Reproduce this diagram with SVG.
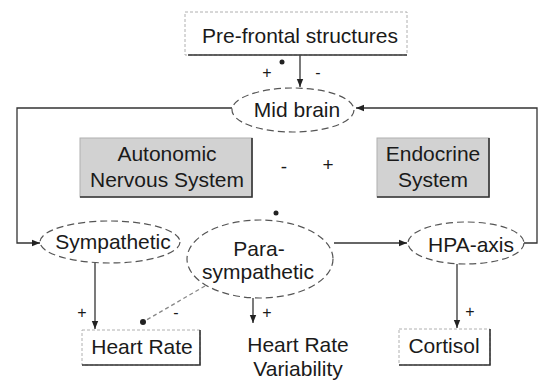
<svg xmlns="http://www.w3.org/2000/svg" width="538" height="389" viewBox="0 0 538 389">
<defs>
<marker id="arr" viewBox="0 0 10 10" refX="10" refY="5" markerWidth="8" markerHeight="8" orient="auto" markerUnits="userSpaceOnUse"><path d="M0,1 L10,5 L0,9 z" fill="#222"/></marker>
<marker id="dot" viewBox="0 0 10 10" refX="5" refY="5" markerWidth="6" markerHeight="6" markerUnits="userSpaceOnUse"><circle cx="5" cy="5" r="5" fill="#222"/></marker>
</defs>
<style>
text{font-family:"Liberation Sans",Arial,sans-serif;font-size:21px;fill:#1a1a1a;text-anchor:middle}
.sign{font-size:16px}
.ell{fill:#fff;stroke:#555;stroke-width:1.2;stroke-dasharray:7 4}
.box{fill:#fff;stroke:#b0b0b0;stroke-width:1;stroke-dasharray:3 2}
.gbox{fill:#d2d2d2;stroke:#b0b0b0;stroke-width:1}
.shadow{stroke:#333;stroke-width:1.6;fill:none}
.con{stroke:#333;stroke-width:1.3;fill:none}
.dash{stroke:#888;stroke-width:1.3;fill:none;stroke-dasharray:4 3}
</style>
<rect width="538" height="389" fill="#fff"/>

<g id="connectors">
<path class="con" d="M300,55 V87" marker-end="url(#arr)"/>
<path class="con" d="M232,108 H17 V243 H40" marker-end="url(#arr)"/>
<path class="con" d="M524,243 H537 V108 H356" marker-end="url(#arr)"/>
<path class="con" d="M334,243 H407" marker-end="url(#arr)"/>
<path class="con" d="M95,263 V329" marker-end="url(#arr)"/>
<path class="con" d="M253,298 V323" marker-end="url(#arr)"/>
<path class="con" d="M457,264 V328" marker-end="url(#arr)"/>
<path class="dash" d="M205,286 L143,322" marker-end="url(#dot)"/>
<circle cx="282" cy="62" r="2.5" fill="#222"/>
<circle cx="276" cy="213" r="2.5" fill="#222"/>
<text class="sign" x="267" y="78">+</text>
<text class="sign" x="318" y="78">-</text>
<text class="sign" x="284" y="173" style="font-size:19px">-</text>
<text class="sign" x="328" y="171" style="font-size:19px">+</text>
<text class="sign" x="82" y="318">+</text>
<text class="sign" x="176" y="318">-</text>
<text class="sign" x="267" y="318">+</text>
<text class="sign" x="470" y="317">+</text>
</g>

<g id="prefrontal">
<rect class="box" x="185" y="12" width="222" height="43"/>
<path class="shadow" d="M188,55 H407"/>
<text x="300" y="43">Pre-frontal structures</text>
</g>

<g id="midbrain">
<ellipse class="ell" cx="293" cy="110" rx="61" ry="22"/>
<text x="297" y="117">Mid brain</text>
</g>

<g id="ans">
<rect class="gbox" x="80" y="138" width="172" height="59"/>
<path class="shadow" d="M252,138 V197 H80"/>
<text x="167" y="161">Autonomic</text>
<text x="167" y="187">Nervous System</text>
</g>

<g id="endocrine">
<rect class="gbox" x="377" y="138" width="112" height="59"/>
<path class="shadow" d="M489,138 V197 H377"/>
<text x="433" y="161">Endocrine</text>
<text x="433" y="187">System</text>
</g>

<g id="sympathetic">
<ellipse class="ell" cx="110" cy="242" rx="70" ry="21"/>
<text x="113" y="249">Sympathetic</text>
</g>

<g id="parasympathetic">
<ellipse class="ell" cx="260" cy="259" rx="73" ry="39"/>
<text x="259" y="256">Para-</text>
<text x="258" y="279">sympathetic</text>
</g>

<g id="hpa">
<ellipse class="ell" cx="466" cy="243" rx="58" ry="21"/>
<text x="471" y="252">HPA-axis</text>
</g>

<g id="heartrate">
<rect class="box" x="82" y="330" width="118" height="35"/>
<path class="shadow" d="M200,330 V365 H82"/>
<text x="142" y="354">Heart Rate</text>
</g>

<g id="hrv">
<text x="298" y="352">Heart Rate</text>
<text x="298" y="376">Variability</text>
</g>

<g id="cortisol">
<rect class="box" x="399" y="329" width="91" height="36"/>
<path class="shadow" d="M490,329 V365 H399"/>
<text x="444" y="353">Cortisol</text>
</g>
</svg>
